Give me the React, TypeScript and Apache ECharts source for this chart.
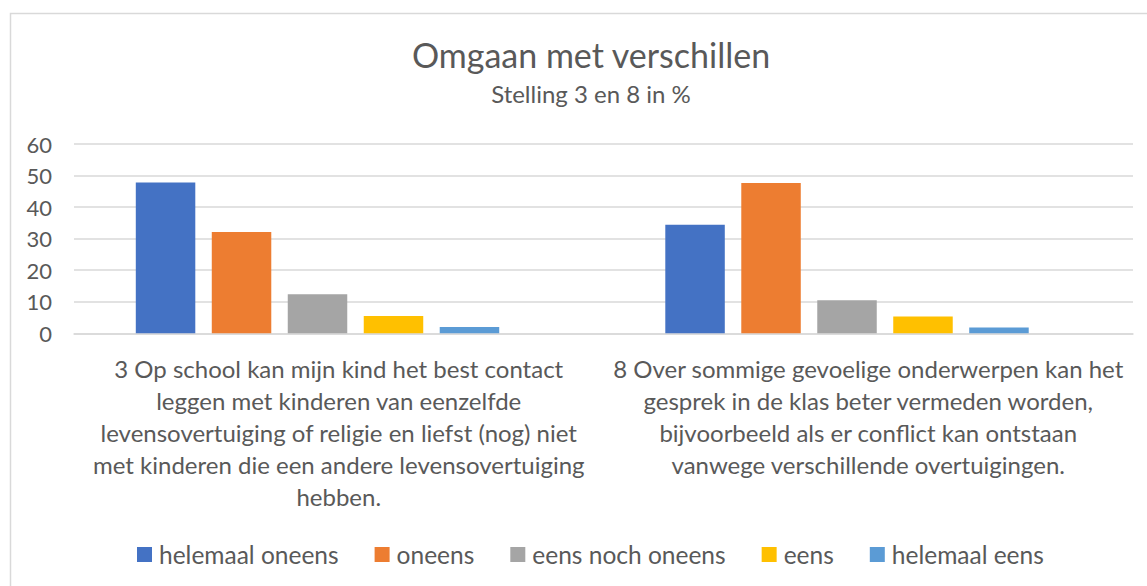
import React, { useEffect, useRef } from "react";
import * as echarts from "echarts";

const titleText = "Omgaan met verschillen";
const subtitleText = "Stelling 3 en 8 in %";

const categories = [
  "3 Op school kan mijn kind het best contact\nleggen met kinderen van eenzelfde\nlevensovertuiging of religie en liefst (nog) niet\nmet kinderen die een andere levensovertuiging\nhebben.",
  "8 Over sommige gevoelige onderwerpen kan het\ngesprek in de klas beter vermeden worden,\nbijvoorbeeld als er conflict kan ontstaan\nvanwege verschillende overtuigingen.",
];

const seriesNames = ["helemaal oneens", "oneens", "eens noch oneens", "eens", "helemaal eens"];
const helemaalOneens = [47.8, 34.4];
const oneens = [32.1, 47.6];
const eensNochOneens = [12.4, 10.5];
const eens = [5.5, 5.3];
const helemaalEens = [2.0, 1.8];
const seriesColors = ["#4472C4", "#ED7D31", "#A5A5A5", "#FFC000", "#5B9BD5"];

const yTicks = { min: 0, max: 60, interval: 10 };

const FONT = "Lato, 'Open Sans', sans-serif";
const TEXT = "#595959";
const GRID = "#D9D9D9";

export default function App() {
  const ref = useRef<HTMLDivElement>(null);

  useEffect(() => {
    if (!ref.current) return;
    const chart = echarts.init(ref.current, null, { renderer: "svg" });
    const values = [helemaalOneens, oneens, eensNochOneens, eens, helemaalEens];
    const barSeries: any[] = values.map((data, i) => ({
      name: seriesNames[i],
      type: "bar",
      data,
      barWidth: 59.5,
      barGap: "27.7%",
      itemStyle: { color: seriesColors[i] },
    }));
    // spacer column (no data) reproducing the original's off-centre clusters
    barSeries.push({
      name: "spacer",
      type: "bar",
      data: ["-", "-"],
      barWidth: 26,
      barGap: "27.7%",
      silent: true,
      itemStyle: { color: "transparent" },
    });

    chart.setOption({
      animation: false,
      backgroundColor: "#ffffff",
      textStyle: { fontFamily: FONT },
      title: {
        text: titleText,
        subtext: subtitleText,
        left: 586,
        textAlign: "center",
        top: 32,
        itemGap: 10,
        textStyle: { fontFamily: FONT, fontSize: 34, fontWeight: "normal", color: TEXT },
        subtextStyle: { fontFamily: FONT, fontSize: 24, color: TEXT },
      },
      graphic: [
        {
          type: "rect",
          shape: { x: 10.5, y: 13.5, width: 1160, height: 600 },
          style: { fill: "none", stroke: GRID, lineWidth: 1.5 },
          silent: true,
          z: -1,
        },
      ],
      legend: {
        data: seriesNames,
        left: 132,
        top: 537,
        icon: "rect",
        itemWidth: 15,
        itemHeight: 15,
        itemGap: 36,
        textStyle: { fontFamily: FONT, fontSize: 24.5, color: TEXT, padding: [0, 0, 0, 2] },
      },
      grid: { left: 74, right: 14, top: 144, bottom: 252.7, containLabel: false },
      xAxis: {
        type: "category",
        data: categories,
        axisLine: { show: true, lineStyle: { color: GRID, width: 1.5 } },
        axisTick: { show: false },
        axisLabel: {
          interval: 0,
          margin: 19,
          fontFamily: FONT,
          fontSize: 24,
          lineHeight: 32,
          color: TEXT,
          align: "center",
        },
      },
      yAxis: {
        type: "value",
        min: yTicks.min,
        max: yTicks.max,
        interval: yTicks.interval,
        axisLine: { show: false },
        axisTick: { show: false },
        splitLine: { lineStyle: { color: GRID, width: 1.5 } },
        axisLabel: { margin: 22, fontFamily: FONT, fontSize: 22, color: TEXT },
      },
      series: barSeries,
    });
    return () => chart.dispose();
  }, []);

  return (
    <div
      ref={ref}
      style={{ position: "absolute", left: 0, top: 0, width: 1147, height: 586 }}
    />
  );
}
